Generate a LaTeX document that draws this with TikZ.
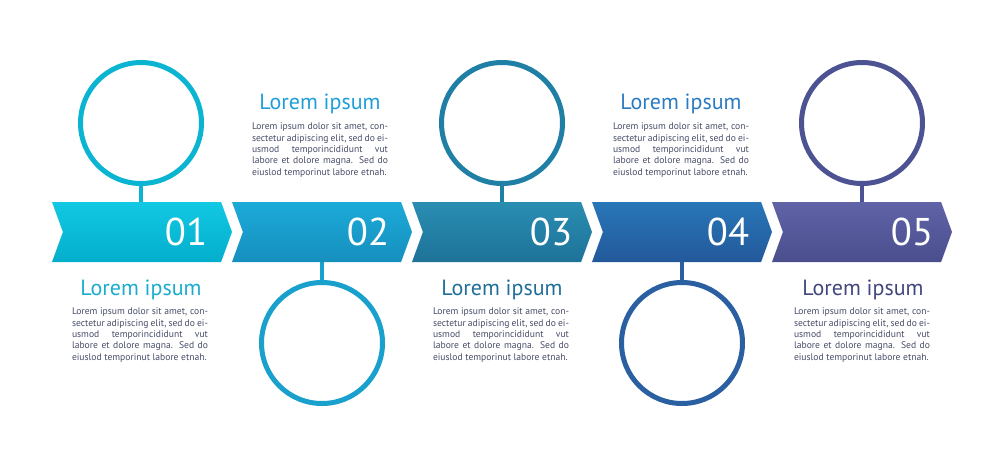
\documentclass[tikz,border=0pt]{standalone}
\usepackage{fontspec}
\setmainfont{PT Sans}
\usetikzlibrary{shapes.symbols}

% step colours (top / bottom of arrow, ring, title)
\definecolor{stepAtop}{RGB}{18,200,226}
\definecolor{stepAbot}{RGB}{3,174,204}
\definecolor{stepAring}{RGB}{11,181,210}
\definecolor{stepAtxt}{RGB}{26,172,205}
\definecolor{stepBtop}{RGB}{28,170,216}
\definecolor{stepBbot}{RGB}{22,143,190}
\definecolor{stepBring}{RGB}{26,160,204}
\definecolor{stepBtxt}{RGB}{30,159,216}
\definecolor{stepCtop}{RGB}{42,141,178}
\definecolor{stepCbot}{RGB}{30,114,152}
\definecolor{stepCring}{RGB}{31,127,164}
\definecolor{stepCtxt}{RGB}{31,110,152}
\definecolor{stepDtop}{RGB}{40,118,184}
\definecolor{stepDbot}{RGB}{35,89,154}
\definecolor{stepDring}{RGB}{42,95,162}
\definecolor{stepDtxt}{RGB}{42,123,192}
\definecolor{stepEtop}{RGB}{96,99,166}
\definecolor{stepEbot}{RGB}{74,78,142}
\definecolor{stepEring}{RGB}{77,82,146}
\definecolor{stepEtxt}{RGB}{65,70,127}
\definecolor{bodytxt}{RGB}{70,75,102}

\tikzset{
  arrowbox/.style={signal, signal to=east, signal from=west, signal pointer angle=140,
    minimum width=135pt, minimum height=45pt, inner sep=0pt},
  ring/.style={circle, draw=#1, line width=3.75pt, fill=white, minimum size=90.75pt, inner sep=0pt},
  stem/.style={draw=#1, line width=3pt},
  stepnum/.style={text=white, inner sep=0.75pt, font=\fontsize{29}{30}\selectfont},
  stephead/.style={text=#1, inner sep=0.75pt, font=\fontsize{16.5}{18}\selectfont},
  stepbody/.style={text=bodytxt, inner sep=0pt, text width=102pt, align=justify,
    font=\fontsize{7.2}{8.5}\selectfont}
}

\newcommand{\loremtext}{Lorem ipsum dolor sit amet, con-\linebreak sectetur adipiscing elit, sed do ei-\linebreak usmod temporincididunt vut\linebreak labore et dolore magna. Sed do\linebreak eiuslod temporinut labore etnah.}

\begin{document}
\begin{tikzpicture}[x=0.75pt,y=0.75pt,yscale=-1,xscale=1]
\useasboundingbox (0,0) rectangle (1000,475);

%Shape: Signal 01..05
\node [arrowbox, top color=stepAtop, bottom color=stepAbot] (a1) at (142,232) {};
\node [arrowbox, top color=stepBtop, bottom color=stepBbot] (a2) at (322,232) {};
\node [arrowbox, top color=stepCtop, bottom color=stepCbot] (a3) at (502,232) {};
\node [arrowbox, top color=stepDtop, bottom color=stepDbot] (a4) at (682,232) {};
\node [arrowbox, top color=stepEtop, bottom color=stepEbot] (a5) at (862,232) {};

%Shape: Circle
\node [ring=stepAring] (c1) at (141,123) {};
\node [ring=stepBring] (c2) at (322,343) {};
\node [ring=stepCring] (c3) at (502,123) {};
\node [ring=stepDring] (c4) at (682,343) {};
\node [ring=stepEring] (c5) at (862,123) {};

%Straight Lines
\draw [stem=stepAring] (c1.south) -- (c1.south |- a1.north);
\draw [stem=stepBring] (c2.north) -- (c2.north |- a2.south);
\draw [stem=stepCring] (c3.south) -- (c3.south |- a3.north);
\draw [stem=stepDring] (c4.north) -- (c4.north |- a4.south);
\draw [stem=stepEring] (c5.south) -- (c5.south |- a5.north);

% Text Node
\node [stepnum] (n1) at (186,232) {01};
\node [stepnum] (n2) at (368,232) {02};
\node [stepnum] (n3) at (551,232) {03};
\node [stepnum] (n4) at (728,232) {04};
\node [stepnum] (n5) at (912,232) {05};

% Text Node
\node [stephead=stepAtxt] (h1) at (141,290) {Lorem ipsum};
\node [stephead=stepBtxt] (h2) at (320,104) {Lorem ipsum};
\node [stephead=stepCtxt] (h3) at (502,290) {Lorem ipsum};
\node [stephead=stepDtxt] (h4) at (681,104) {Lorem ipsum};
\node [stephead=stepEtxt] (h5) at (863,290) {Lorem ipsum};

% Text Node
\node [stepbody] (b1) at (140,335) {\loremtext};
\node [stepbody] (b2) at (320,150) {\loremtext};
\node [stepbody] (b3) at (501,335) {\loremtext};
\node [stepbody] (b4) at (681,150) {\loremtext};
\node [stepbody] (b5) at (862,335) {\loremtext};

\end{tikzpicture}
\end{document}
